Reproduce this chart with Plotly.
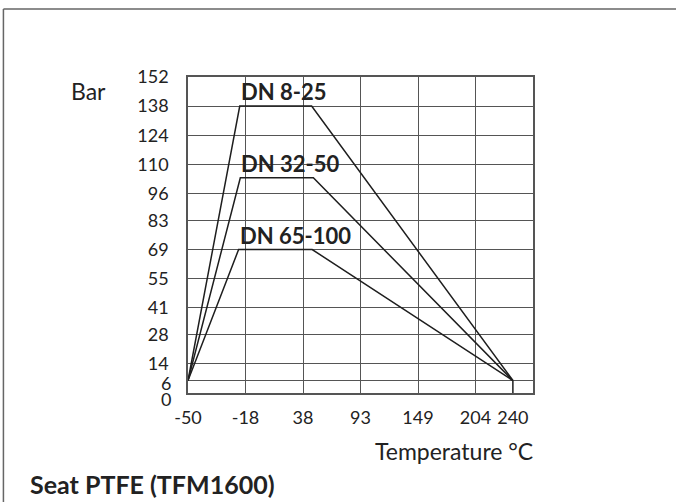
import plotly.graph_objects as go

# X axis: evenly spaced category positions (index units) with temperature labels
x_tick_pos = [0, 1, 2, 3, 4, 5, 5.65]
x_tick_text = ["-50", "-18", "38", "93", "149", "204", "240"]
x_grid_pos = [1, 2, 3, 4, 5]

y_ticks = [0, 6, 14, 28, 41, 55, 69, 83, 96, 110, 124, 138, 152]
y_small_ticks = [0, 6]          # labels drawn separately (squeezed at the bottom)
y_small_shift = [-6, -2]

series_names = ["DN 8-25", "DN 32-50", "DN 65-100"]
series_x = [
    [0, 0.90, 2.15, 5.65],
    [0, 0.91, 2.18, 5.65],
    [0, 0.88, 2.16, 5.65],
]
series_y = [
    [6, 138, 138, 6],
    [6, 103.5, 103.5, 6],
    [6, 69, 69, 6],
]
end_seg_x = [5.65, 5.65]
end_seg_y = [6, 0]

FONT = "Lato"
TXT = "#222222"
LINE = "#1e1e1e"
GRID = "#555555"

fig = go.Figure()
for name, xs, ys in zip(series_names, series_x, series_y):
    fig.add_trace(go.Scatter(x=xs, y=ys, mode="lines", name=name,
                             line=dict(color=LINE, width=1.5), hoverinfo="skip"))
fig.add_trace(go.Scatter(x=end_seg_x, y=end_seg_y, mode="lines",
                         line=dict(color=LINE, width=1.5), hoverinfo="skip"))

for name, xs, ys in zip(series_names, series_x, series_y):
    fig.add_annotation(x=xs[1], y=ys[1], xref="x", yref="y", text="<b>%s</b>" % name,
                       showarrow=False, xanchor="left", yanchor="bottom",
                       xshift=-1, yshift=-1,
                       font=dict(family=FONT, size=22, color=TXT))

# bottom y tick labels (0 and 6), nudged like in the reference
for v, s in zip(y_small_ticks, y_small_shift):
    fig.add_annotation(x=0, y=v, xref="paper", yref="y", text=str(v), showarrow=False,
                       xanchor="right", yanchor="middle", xshift=-15, yshift=s,
                       font=dict(family=FONT, size=18, color=TXT))

fig.add_annotation(x=-0.287, y=0.955, xref="paper", yref="paper", text="Bar",
                   showarrow=False, xanchor="center", yanchor="middle",
                   font=dict(family=FONT, size=23, color=TXT))
fig.add_annotation(x=1.005, y=-0.184, xref="paper", yref="paper", text="Temperature °C",
                   showarrow=False, xanchor="right", yanchor="middle",
                   font=dict(family=FONT, size=23, color=TXT))
fig.add_annotation(x=-0.465, y=-0.288, xref="paper", yref="paper",
                   text="<b>Seat PTFE (TFM1600)</b>",
                   showarrow=False, xanchor="left", yanchor="middle",
                   font=dict(family=FONT, size=25, color=TXT))

# outer frame (top and left edges)
fig.add_shape(type="line", xref="paper", yref="paper", x0=-0.535, x1=1.5, y0=1.215, y1=1.215,
              line=dict(color="#666666", width=1.5))
fig.add_shape(type="line", xref="paper", yref="paper", x0=-0.535, x1=-0.535, y0=1.215, y1=-0.4,
              line=dict(color="#666666", width=1.5))

fig.update_layout(
    width=676, height=502,
    margin=dict(l=188, r=143, t=77, b=109),
    paper_bgcolor="white", plot_bgcolor="white",
    showlegend=False,
    font=dict(family=FONT, size=18, color=TXT),
    xaxis=dict(
        range=[0, 6], tickmode="array", tickvals=x_tick_pos, ticktext=x_tick_text,
        showgrid=False, zeroline=False, showline=True, mirror=True,
        linecolor=GRID, linewidth=1.5, ticks="", ticklabelstandoff=8,
        tickfont=dict(family=FONT, size=18, color=TXT),
        minor=dict(tickmode="array", tickvals=x_grid_pos, showgrid=True,
                   gridcolor=GRID, gridwidth=1.3, ticks=""),
    ),
    yaxis=dict(
        range=[0, 152], tickmode="array", tickvals=y_ticks,
        ticktext=["" if v in y_small_ticks else str(v) for v in y_ticks],
        showgrid=True, gridcolor=GRID, gridwidth=1.3, zeroline=False,
        showline=True, mirror=True, linecolor=GRID, linewidth=1.5,
        ticks="", ticklabelstandoff=14,
        tickfont=dict(family=FONT, size=18, color=TXT),
    ),
)

fig.write_html("out.html", config={"displayModeBar": False},
               post_script="document.body.style.margin='0px';")
